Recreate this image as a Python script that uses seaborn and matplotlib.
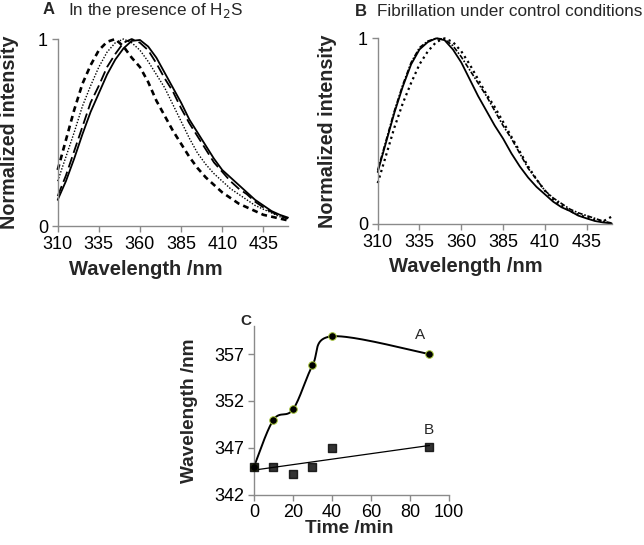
import numpy as np
import pandas as pd
import matplotlib.pyplot as plt
import seaborn as sns

# emission spectra, every 5 nm
wavelength = [310, 315, 320, 325, 330, 335, 340, 345, 350, 355, 360, 365, 370, 375, 380,
              385, 390, 395, 400, 405, 410, 415, 420, 425, 430, 435, 440, 445, 450]

# panel A (in the presence of H2S)
a_solid = [0.14, 0.24, 0.36, 0.49, 0.61, 0.71, 0.81, 0.89, 0.95, 0.99, 0.995, 0.96, 0.90, 0.82, 0.74,
           0.66, 0.57, 0.50, 0.43, 0.36, 0.30, 0.26, 0.22, 0.18, 0.14, 0.11, 0.08, 0.06, 0.045]
a_longdash = [0.16, 0.27, 0.40, 0.53, 0.66, 0.75, 0.85, 0.92, 0.98, 1.00, 0.98, 0.94, 0.87, 0.79, 0.72,
              0.63, 0.55, 0.48, 0.41, 0.34, 0.29, 0.24, 0.20, 0.17, 0.13, 0.10, 0.075, 0.055, 0.04]
a_dotted = [0.24, 0.37, 0.50, 0.64, 0.75, 0.85, 0.93, 0.98, 1.00, 0.98, 0.94, 0.88, 0.81, 0.74, 0.65,
            0.56, 0.47, 0.39, 0.33, 0.28, 0.24, 0.20, 0.17, 0.14, 0.11, 0.09, 0.07, 0.05, 0.035]
a_shortdash = [0.30, 0.46, 0.62, 0.76, 0.86, 0.94, 0.985, 1.00, 0.96, 0.90, 0.85, 0.77, 0.67, 0.59, 0.51,
               0.44, 0.37, 0.31, 0.26, 0.22, 0.18, 0.15, 0.12, 0.10, 0.08, 0.06, 0.05, 0.04, 0.03]

# panel B (control)
b_solid = [0.28, 0.44, 0.60, 0.74, 0.86, 0.94, 0.98, 1.00, 0.99, 0.94, 0.87, 0.78, 0.69, 0.61, 0.53,
           0.46, 0.38, 0.31, 0.25, 0.20, 0.16, 0.12, 0.09, 0.07, 0.045, 0.03, 0.016, 0.008, 0.003]
b_dashdot = [0.29, 0.45, 0.61, 0.75, 0.87, 0.95, 0.985, 1.00, 0.995, 0.96, 0.90, 0.83, 0.76, 0.69, 0.61,
             0.53, 0.46, 0.38, 0.30, 0.24, 0.18, 0.14, 0.11, 0.08, 0.06, 0.045, 0.03, 0.015, 0.005]
b_dotted = [0.22, 0.37, 0.52, 0.65, 0.76, 0.86, 0.93, 0.98, 1.00, 0.98, 0.93, 0.86, 0.78, 0.70, 0.63,
            0.55, 0.47, 0.39, 0.31, 0.24, 0.18, 0.13, 0.10, 0.07, 0.05, 0.035, 0.02, 0.015, 0.04]

# panel C: emission maximum vs time
time_min = [0, 10, 20, 30, 40, 90]
peak_A = [345.0, 350.0, 351.1, 355.8, 358.9, 357.0]
peak_B = [345.0, 345.0, 344.2, 345.0, 347.0, 347.1]


def smooth_curve(xs, ys, n=40):
    # excel-like smoothed line (catmull-rom as cubic bezier)
    p = np.column_stack([xs, ys]).astype(float)
    p = np.vstack([p[0], p, p[-1]])
    out = []
    for i in range(1, len(p) - 2):
        p0, p1, p2, p3 = p[i - 1], p[i], p[i + 1], p[i + 2]
        c1 = p1 + (p2 - p0) / 6
        c2 = p2 - (p3 - p1) / 6
        t = np.linspace(0, 1, n)[:, None]
        seg = (1 - t) ** 3 * p1 + 3 * t * (1 - t) ** 2 * c1 + 3 * t ** 2 * (1 - t) * c2 + t ** 3 * p2
        out.append(seg if i == 1 else seg[1:])
    return np.vstack(out)


sns.set_style("ticks")
plt.rcParams['font.family'] = ['Liberation Sans', 'DejaVu Sans']
grey = '#8a8a8a'

fig = plt.figure(figsize=(6.44, 5.45), dpi=100)
axA = fig.add_axes([0.0896, 0.5853, 0.3576, 0.3431])
axB = fig.add_axes([0.5865, 0.589, 0.3634, 0.3407])
axC = fig.add_axes([0.3944, 0.0923, 0.3028, 0.3095])

specA = [(a_solid, '-', 1.3), (a_longdash, (0, (6, 2.5)), 1.3),
         (a_dotted, (0, (1, 1.2)), 1.0), (a_shortdash, (0, (2.2, 1.6)), 1.9)]
specB = [(b_solid, '-', 1.3), (b_dashdot, (0, (3, 1, 1, 1)), 1.2), (b_dotted, (0, (1, 1.6)), 1.6)]

for ax, specs in [(axA, specA), (axB, specB)]:
    for vals, ls, lw in specs:
        sns.lineplot(x=wavelength, y=vals, ax=ax, color='black', linestyle=ls, lw=lw, clip_on=False)
    ax.set_xlim(310, 450)
    ax.set_ylim(0, 1)
    ax.set_xticks([310, 335, 360, 385, 410, 435])
    ax.set_yticks([0, 1])
    ax.set_xlabel('Wavelength /nm', fontsize=14.5, fontweight='bold')
    ax.set_ylabel('Normalized intensity', fontsize=14.2, fontweight='bold')

axA.xaxis.set_label_coords(0.383, -0.18)
axA.yaxis.set_label_coords(-0.168, 0.5)
axB.xaxis.set_label_coords(0.377, -0.18)
axB.yaxis.set_label_coords(-0.172, 0.5)

# panel C
curveA = smooth_curve(time_min, peak_A)
sns.lineplot(x=curveA[:, 0], y=curveA[:, 1], ax=axC, sort=False, color='black', lw=1.4, clip_on=False)
sns.scatterplot(x=time_min, y=peak_A, ax=axC, color='black', s=30, edgecolor='#a8c83a',
                linewidth=0.7, zorder=3, clip_on=False)
sns.regplot(x=time_min, y=peak_B, ax=axC, ci=None, marker='s', color='black',
            scatter_kws={'s': 38, 'zorder': 3, 'clip_on': False}, line_kws={'lw': 0.9})
axC.text(85.3, 359.0, 'A', fontsize=11, ha='center', va='center')
axC.text(89.6, 348.9, 'B', fontsize=11, ha='center', va='center')
axC.set_xlim(0, 100)
axC.set_ylim(342, 360)
axC.set_xticks([0, 20, 40, 60, 80, 100])
axC.set_yticks([342, 347, 352, 357])
axC.set_xlabel('Time /min', fontsize=13.7, fontweight='bold')
axC.set_ylabel('Wavelength /nm', fontsize=13.7, fontweight='bold')
axC.xaxis.set_label_coords(0.487, -0.15)
axC.yaxis.set_label_coords(-0.285, 0.5)

for ax in [axA, axB, axC]:
    sns.despine(ax=ax)
    for s in ['left', 'bottom']:
        ax.spines[s].set_color(grey)
        ax.spines[s].set_linewidth(1.0)
    ax.tick_params(colors=grey, labelcolor='black', labelsize=13, length=4, width=1, pad=3)

fig.text(43 / 644, 1 - 10 / 545, 'A', fontsize=12, fontweight='bold', va='center')
fig.text(68 / 644, 1 - 10 / 545, 'In the presence of H$_2$S', fontsize=12.3, va='center')
fig.text(355 / 644, 1 - 11 / 545, 'B', fontsize=12, fontweight='bold', va='center')
fig.text(377 / 644, 1 - 11 / 545, 'Fibrillation under control conditions', fontsize=12.3, va='center')
fig.text(240 / 644, 1 - 321 / 545, 'C', fontsize=11, fontweight='bold', va='center')

fig.savefig('out.png', dpi=100)
